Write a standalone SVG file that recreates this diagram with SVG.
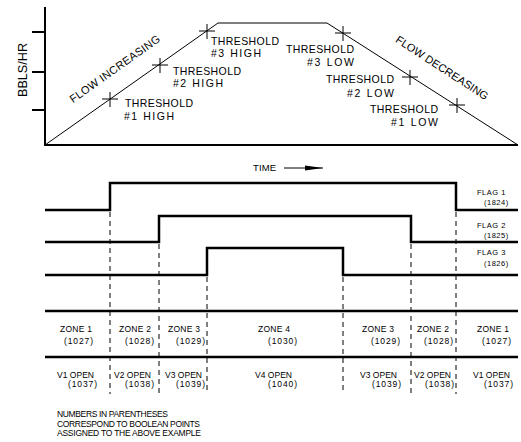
<svg xmlns="http://www.w3.org/2000/svg" width="521" height="442" viewBox="0 0 521 442">
<style>
text{font-family:"Liberation Sans",Arial,sans-serif;fill:#000}
.lbl{font-size:10.5px}
.rot{font-size:11px}
.sm{font-size:7.5px;letter-spacing:0.5px}
.z{font-size:8.5px}
.note{font-size:8.5px}
.ax{stroke:#000;stroke-width:2;fill:none}
.thin{stroke:#000;stroke-width:1;fill:none}
.sig{stroke:#000;stroke-width:2.5;fill:none}
.dash{stroke:#000;stroke-width:1;stroke-dasharray:5,4;fill:none}
</style>
<defs>
<marker id="arr" markerWidth="18" markerHeight="6" refX="18" refY="3" orient="auto" markerUnits="userSpaceOnUse">
<path d="M0,0.5 L18,3 L0,5.5 Z" fill="#000"/>
</marker>
</defs>
<rect width="521" height="442" fill="#fff"/>

<g id="chart-axes">
<path class="ax" d="M45,7 V145 H518"/>
<path class="ax" d="M32,32 H45 M32,72 H45 M32,110 H45"/>
<text font-size="12.5" transform="translate(27,70) rotate(-90)" text-anchor="middle" textLength="54" lengthAdjust="spacingAndGlyphs">BBLS/HR</text>
</g>

<g id="flow-curve">
<path class="thin" d="M45,145 L218,23 H327 L518,145"/>
<text class="rot" text-anchor="middle" transform="translate(117,72) rotate(-35.5)" textLength="108">FLOW INCREASING</text>
<text class="rot" text-anchor="middle" transform="translate(440,71) rotate(33)" textLength="108">FLOW DECREASING</text>
</g>

<g id="threshold-1-high">
<path class="thin" d="M102,99 H118 M110,92 V107"/>
<text class="lbl" x="125" y="107" textLength="68">THRESHOLD</text>
<text class="lbl" x="124" y="120" textLength="50">#1  HIGH</text>
</g>
<g id="threshold-2-high">
<path class="thin" d="M152,65 H168 M160,58 V73"/>
<text class="lbl" x="173" y="75" textLength="68">THRESHOLD</text>
<text class="lbl" x="173" y="87" textLength="50">#2  HIGH</text>
</g>
<g id="threshold-3-high">
<path class="thin" d="M199,31 H215 M207,24 V39"/>
<text class="lbl" x="211" y="45" textLength="68">THRESHOLD</text>
<text class="lbl" x="211" y="57" textLength="50">#3  HIGH</text>
</g>
<g id="threshold-3-low">
<path class="thin" d="M335,33 H351 M343,26 V41"/>
<text class="lbl" x="286" y="53" textLength="68">THRESHOLD</text>
<text class="lbl" x="307" y="66" textLength="47">#3  LOW</text>
</g>
<g id="threshold-2-low">
<path class="thin" d="M402,77 H418 M410,70 V85"/>
<text class="lbl" x="326" y="83" textLength="68">THRESHOLD</text>
<text class="lbl" x="347" y="97" textLength="47">#2  LOW</text>
</g>
<g id="threshold-1-low">
<path class="thin" d="M449,105 H465 M457,98 V113"/>
<text class="lbl" x="370" y="113" textLength="68">THRESHOLD</text>
<text class="lbl" x="391" y="126" textLength="47">#1  LOW</text>
</g>

<g id="time-axis">
<text font-size="9.5" x="253" y="171" textLength="23">TIME</text>
<line class="thin" x1="284" y1="168" x2="323" y2="168" marker-end="url(#arr)"/>
</g>

<g id="flag-1">
<path class="sig" d="M45,210 H110 V183 H456 V210 H518"/>
<text class="sm" x="477" y="195">FLAG 1</text>
<text class="sm" x="484" y="205">(1824)</text>
</g>
<g id="flag-2">
<path class="sig" d="M45,242 H159 V216 H411 V242 H518"/>
<text class="sm" x="477" y="228">FLAG 2</text>
<text class="sm" x="484" y="238">(1825)</text>
</g>
<g id="flag-3">
<path class="sig" d="M45,275 H207 V248 H343 V275 H518"/>
<text class="sm" x="477" y="255">FLAG 3</text>
<text class="sm" x="484" y="266">(1826)</text>
</g>

<g id="connectors">
<path class="dash" d="M110,212 V394 M159,244 V394 M207,277 V394 M343,277 V394 M411,244 V394 M456,212 V394"/>
<path class="sig" d="M45,311 H518 M45,357 H518"/>
</g>

<g id="zones">
<text class="z" x="60" y="332" textLength="32">ZONE 1</text><text class="z" x="64" y="344" textLength="29">(1027)</text>
<text class="z" x="119" y="332" textLength="32">ZONE 2</text><text class="z" x="125" y="344" textLength="29">(1028)</text>
<text class="z" x="168" y="332" textLength="32">ZONE 3</text><text class="z" x="176" y="344" textLength="29">(1029)</text>
<text class="z" x="258" y="332" textLength="32">ZONE 4</text><text class="z" x="268" y="344" textLength="29">(1030)</text>
<text class="z" x="362" y="332" textLength="32">ZONE 3</text><text class="z" x="371" y="344" textLength="29">(1029)</text>
<text class="z" x="417" y="332" textLength="32">ZONE 2</text><text class="z" x="424" y="344" textLength="29">(1028)</text>
<text class="z" x="477" y="332" textLength="32">ZONE 1</text><text class="z" x="482" y="344" textLength="29">(1027)</text>
</g>

<g id="valves">
<text class="z" x="57" y="378" textLength="37">V1 OPEN</text><text class="z" x="68" y="387" textLength="29">(1037)</text>
<text class="z" x="114" y="378" textLength="37">V2 OPEN</text><text class="z" x="125" y="387" textLength="29">(1038)</text>
<text class="z" x="165" y="378" textLength="37">V3 OPEN</text><text class="z" x="176" y="387" textLength="29">(1039)</text>
<text class="z" x="255" y="378" textLength="37">V4 OPEN</text><text class="z" x="268" y="387" textLength="29">(1040)</text>
<text class="z" x="360" y="378" textLength="37">V3 OPEN</text><text class="z" x="372" y="387" textLength="29">(1039)</text>
<text class="z" x="414" y="378" textLength="37">V2 OPEN</text><text class="z" x="425" y="387" textLength="29">(1038)</text>
<text class="z" x="473" y="378" textLength="37">V1 OPEN</text><text class="z" x="484" y="387" textLength="29">(1037)</text>
</g>

<g id="footnote">
<text class="note" x="57" y="417" textLength="111">NUMBERS IN PARENTHESES</text>
<text class="note" x="57" y="427" textLength="143">CORRESPOND TO BOOLEAN POINTS</text>
<text class="note" x="57" y="436" textLength="144">ASSIGNED TO THE ABOVE EXAMPLE</text>
</g>
</svg>
